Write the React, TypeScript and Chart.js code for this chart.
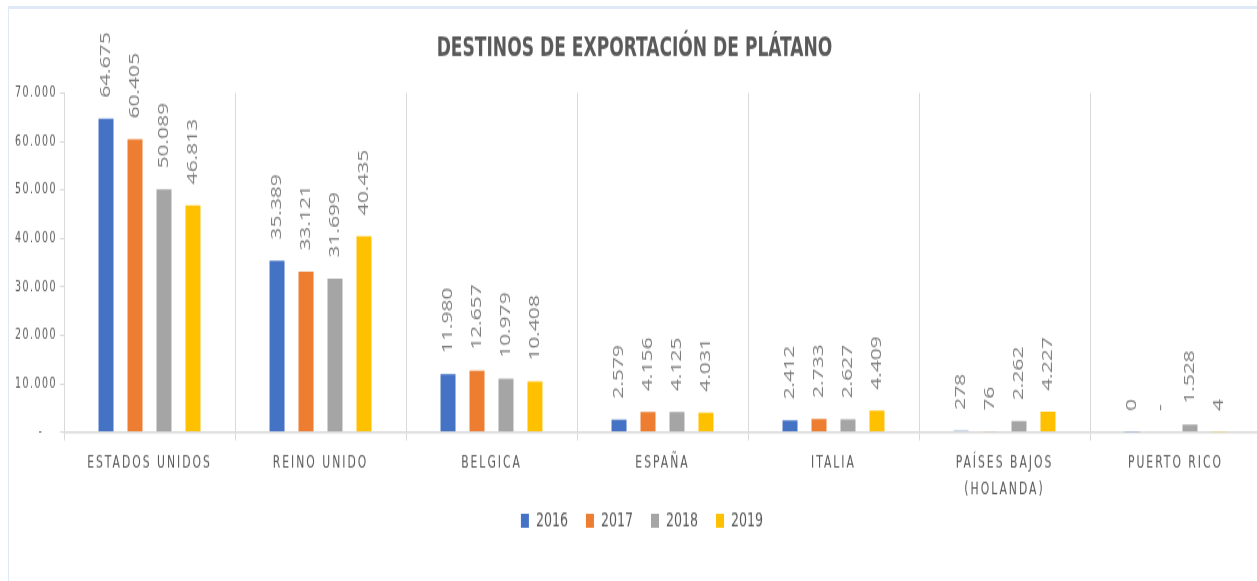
import React, { useEffect, useRef } from 'react';
import { Chart, registerables } from 'chart.js';

Chart.register(...registerables);

const categories: (string | string[])[] = [
  'ESTADOS UNIDOS',
  'REINO UNIDO',
  'BELGICA',
  'ESPAÑA',
  'ITALIA',
  ['PAÍSES BAJOS', '(HOLANDA)'],
  'PUERTO RICO',
];
const years = ['2016', '2017', '2018', '2019'];
const values2016 = [64675, 35389, 11980, 2579, 2412, 278, 0.2];
const values2017 = [60405, 33121, 12657, 4156, 2733, 76, 0];
const values2018 = [50089, 31699, 10979, 4125, 2627, 2262, 1528];
const values2019 = [46813, 40435, 10408, 4031, 4409, 4227, 4];
const seriesColors = ['#4472C4', '#ED7D31', '#A5A5A5', '#FFC000'];
const yTicks = [0, 10000, 20000, 30000, 40000, 50000, 60000, 70000];
const title = 'DESTINOS DE EXPORTACIÓN DE PLÁTANO';

// The reference picture is stretched vertically; the chart is drawn at its
// natural height and stretched by this factor with CSS.
const STRETCH = 1.4;
const CANVAS_W = 1261;
const CANVAS_H = 415;

const COND = "'DejaVu Sans Condensed', 'DejaVu Sans', sans-serif";
const TEXT = '#595959';

function fmt(v: number): string {
  if (v === 0) return '-';
  return Math.round(v).toString().replace(/\B(?=(\d{3})+(?!\d))/g, '.');
}

const spacingPlugin = {
  id: 'spacing',
  afterLayout(chart: any) {
    if (chart.legend) chart.legend.left += 23;
    if (chart.titleBlock) chart.titleBlock.left += 8;
  },
  beforeDraw(chart: any) {
    const spacing: Record<string, string> = { x: '2px', y: '1.5px' };
    Object.keys(spacing).forEach((id) => {
      const s = chart.scales[id];
      if (s && !s.__spaced) {
        const orig = s.drawLabels;
        s._computeLabelArea = () => undefined;
        s.drawLabels = function (area: any) {
          const ctx = this.ctx;
          ctx.save();
          ctx.letterSpacing = spacing[id];
          orig.call(this, area);
          ctx.restore();
        };
        s.__spaced = true;
      }
    });
  },
};

const valueLabelPlugin = {
  id: 'valueLabels',
  afterDatasetsDraw(chart: any) {
    const ctx = chart.ctx as CanvasRenderingContext2D;
    chart.data.datasets.forEach((ds: any, di: number) => {
      const meta = chart.getDatasetMeta(di);
      meta.data.forEach((el: any, i: number) => {
        const v = ds.data[i] as number;
        ctx.save();
        ctx.font = "15px 'Open Sans', sans-serif";
        ctx.fillStyle = '#7f7f7f';
        ctx.translate(el.x, el.y - 15);
        ctx.rotate(-Math.PI / 2);
        ctx.textAlign = 'left';
        ctx.textBaseline = 'middle';
        ctx.fillText(fmt(v), 0, 0);
        ctx.restore();
      });
    });
  },
};

export default function App() {
  const ref = useRef<HTMLCanvasElement>(null);

  useEffect(() => {
    document.body.style.margin = '0';
    const seriesValues = [values2016, values2017, values2018, values2019];
    const chart = new Chart(ref.current as HTMLCanvasElement, {
      type: 'bar',
      data: {
        labels: categories as any,
        datasets: years.map((y, i) => ({
          label: y,
          data: seriesValues[i],
          backgroundColor: seriesColors[i],
          borderWidth: 0,
          categoryPercentage: 0.678,
          barPercentage: 0.517,
        })),
      },
      options: {
        responsive: false,
        devicePixelRatio: 1,
        animation: false,
        layout: { padding: { top: 0, left: 0, right: 0, bottom: 26 } },
        scales: {
          x: {
            offset: true,
            grid: {
              offset: true,
              color: '#d9d9d9',
              lineWidth: 1,
              tickLength: 6,
              drawTicks: true,
              drawOnChartArea: true,
            },
            border: { display: true, color: '#d9d9d9', width: 1.5 },
            ticks: {
              color: TEXT,
              font: { family: COND, size: 12, lineHeight: 1.6 },
              padding: 6.4,
              maxRotation: 0,
              autoSkip: false,
            },
            afterFit: (s: any) => {
              s.height = 38.4;
            },
          },
          y: {
            min: 0,
            max: 70000,
            afterBuildTicks: (s: any) => {
              s.ticks = yTicks.map((v) => ({ value: v }));
            },
            ticks: {
              color: TEXT,
              font: { family: COND, size: 10.5 },
              padding: 3,
              callback: (v: any) => (Number(v) === 0 ? '-   ' : fmt(Number(v))),
            },
            grid: { drawOnChartArea: false, drawTicks: true, tickLength: 4, color: '#d9d9d9' },
            border: { display: true, color: '#d9d9d9', width: 1 },
            afterFit: (s: any) => {
              s.width = 64;
            },
          },
        },
        plugins: {
          title: {
            display: true,
            text: title,
            color: TEXT,
            font: { family: COND, size: 19, weight: 'bold', lineHeight: 1.2 },
            padding: { top: 23.6, bottom: 20 },
          },
          legend: {
            position: 'bottom',
            labels: {
              boxWidth: 8,
              boxHeight: 10,
              padding: 18,
              color: TEXT,
              font: { family: COND, size: 14 },
            },
          },
          tooltip: { enabled: false },
        },
      } as any,
      plugins: [spacingPlugin, valueLabelPlugin],
    });
    return () => chart.destroy();
  }, []);

  return (
    <div
      style={{
        position: 'relative',
        width: 1257,
        height: 581,
        overflow: 'hidden',
        background: '#ffffff',
      }}
    >
      <div
        style={{
          position: 'absolute',
          left: 8,
          top: 6,
          width: 1300,
          height: 600,
          borderTop: '3px solid #dfe9f8',
          borderLeft: '1px solid #dfe9f8',
        }}
      />
      <div
        style={{
          position: 'absolute',
          left: 0,
          top: 0,
          width: CANVAS_W,
          height: CANVAS_H,
          transform: `scaleY(${STRETCH})`,
          transformOrigin: '0 0',
        }}
      >
        <canvas ref={ref} width={CANVAS_W} height={CANVAS_H} />
      </div>
    </div>
  );
}
